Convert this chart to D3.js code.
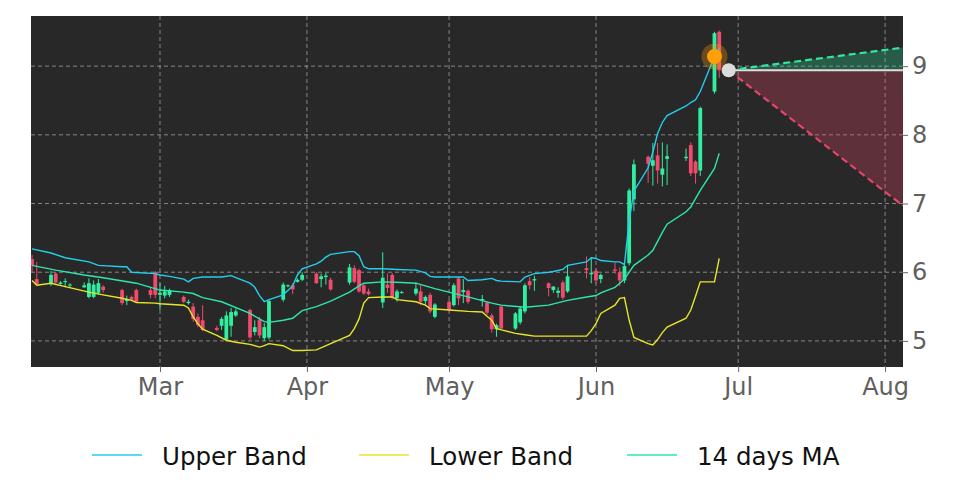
<!DOCTYPE html>
<html>
<head>
<meta charset="utf-8">
<script src="https://cdn.jsdelivr.net/npm/d3@7"></script>
<style>
  html, body { margin: 0; padding: 0; background: #ffffff; }
  svg { display: block; }
  text { font-family: "DejaVu Sans", sans-serif; }
</style>
</head>
<body>
<svg id="chart" width="972" height="486"></svg>
<script>
// ---------------- DATA ----------------
const candleDates = ["2023-02-02","2023-02-03","2023-02-06","2023-02-07","2023-02-08","2023-02-09","2023-02-10",
  "2023-02-13","2023-02-14","2023-02-15","2023-02-16","2023-02-17","2023-02-21","2023-02-22","2023-02-23","2023-02-24",
  "2023-02-27","2023-02-28","2023-03-01","2023-03-02","2023-03-03","2023-03-06","2023-03-07","2023-03-08","2023-03-09","2023-03-10",
  "2023-03-13","2023-03-14","2023-03-15","2023-03-16","2023-03-17","2023-03-20","2023-03-21","2023-03-22","2023-03-23","2023-03-24",
  "2023-03-27","2023-03-28","2023-03-29","2023-03-30","2023-03-31","2023-04-03","2023-04-04","2023-04-05","2023-04-06",
  "2023-04-10","2023-04-11","2023-04-12","2023-04-13","2023-04-14","2023-04-17","2023-04-18","2023-04-19","2023-04-20","2023-04-21",
  "2023-04-24","2023-04-25","2023-04-26","2023-04-27","2023-04-28","2023-05-01","2023-05-02","2023-05-03","2023-05-04","2023-05-05",
  "2023-05-08","2023-05-09","2023-05-10","2023-05-11","2023-05-12","2023-05-15","2023-05-16","2023-05-17","2023-05-18","2023-05-19",
  "2023-05-22","2023-05-23","2023-05-24","2023-05-25","2023-05-26","2023-05-30","2023-05-31","2023-06-01","2023-06-02",
  "2023-06-05","2023-06-06","2023-06-07","2023-06-08","2023-06-09","2023-06-12","2023-06-13","2023-06-14","2023-06-15","2023-06-16",
  "2023-06-20","2023-06-21","2023-06-22","2023-06-23","2023-06-26","2023-06-27"];
const opens  = [6.19,5.90,5.84,5.98,5.83,5.86,5.81, 5.78,5.64,5.64,5.70,5.79,5.74,5.58,5.64,5.74, 5.74,6.00,5.67,5.66,5.67,5.64,5.55,5.50,5.35,5.30,
  5.19,5.22,5.02,5.22,5.37,5.45,5.13,5.31,5.04,5.05, 5.60,5.80,5.81,5.86,5.89,5.98,5.90,5.93,5.89, 5.85,6.06,6.03,5.81,5.72,5.56,5.82,5.96,5.62,5.70,
  5.69,5.72,5.58,5.67,5.35,5.57,5.52,5.91,5.71,5.73, 5.59,5.56,5.37,5.17,5.50,5.18,5.27,5.43,5.87,5.88, 5.84,5.74,5.70,5.85,5.72,6.06,5.97,6.02,5.90,
  6.04,6.00,5.88,6.13,7.06,7.68,7.55,7.70,7.42,7.65, 7.66,7.85,7.61,7.48,8.63,9.50];
const highs  = [6.25,6.15,6.02,6.00,5.87,5.91,5.84, 5.85,5.91,5.88,5.90,5.81,5.76,5.66,5.66,5.76, 5.78,6.02,5.84,5.80,5.76,5.66,5.60,5.55,5.40,5.52,
  5.22,5.35,5.43,5.48,5.47,5.47,5.30,5.35,5.26,5.60, 5.85,5.82,5.84,5.91,6.00,6.00,5.98,5.99,5.92, 6.12,6.10,6.05,5.84,5.76,6.29,5.98,5.99,5.75,5.73,
  5.85,5.81,5.66,5.70,5.55,5.60,5.84,5.93,5.90,5.75, 5.67,5.57,5.40,5.25,5.52,5.42,5.50,5.84,5.93,5.95, 5.85,5.80,5.78,5.88,6.10,6.23,6.22,6.05,5.98,
  6.14,6.07,6.13,7.22,7.64,7.70,7.88,7.88,7.89,7.86, 7.80,7.89,7.63,8.41,9.50,9.52];
const lows   = [6.00,5.81,5.80,5.83,5.82,5.78,5.77, 5.77,5.62,5.62,5.67,5.70,5.52,5.52,5.58,5.56, 5.62,5.62,5.45,5.62,5.64,5.55,5.53,5.28,5.20,5.14,
  5.14,5.16,4.99,5.06,5.35,5.02,5.08,5.04,5.00,5.02, 5.57,5.78,5.68,5.85,5.87,5.83,5.78,5.82,5.73, 5.82,5.84,5.70,5.67,5.66,5.48,5.70,5.60,5.57,5.69,
  5.66,5.52,5.52,5.40,5.33,5.43,5.50,5.52,5.55,5.54, 5.50,5.38,5.12,5.06,5.17,5.16,5.24,5.40,5.75,5.73, 5.65,5.70,5.63,5.60,5.70,5.91,5.84,5.83,5.84,
  5.98,5.80,5.84,6.10,6.89,7.30,7.26,7.29,7.25,7.27, 7.62,7.40,7.29,7.40,8.60,8.83];
const closes = [6.10,5.82,5.96,5.85,5.85,5.87,5.82, 5.81,5.84,5.82,5.84,5.74,5.55,5.61,5.60,5.57, 5.67,5.67,5.70,5.72,5.74,5.57,5.57,5.32,5.23,5.16,
  5.16,5.32,5.37,5.42,5.43,5.05,5.20,5.08,5.20,5.58, 5.82,5.81,5.75,5.89,5.96,5.84,5.94,5.95,5.75, 6.07,5.86,5.72,5.69,5.68,5.92,5.77,5.63,5.72,5.71,
  5.76,5.57,5.64,5.43,5.53,5.45,5.81,5.62,5.74,5.57, 5.61,5.41,5.17,5.23,5.18,5.40,5.47,5.81,5.81,5.90, 5.77,5.79,5.73,5.63,5.94,6.03,5.99,5.88,5.96,
  6.02,5.88,6.09,7.19,7.57,7.58,7.63,7.48,7.51,7.69, 7.68,7.44,7.44,8.39,9.48,8.94];

const upperDates = ["2023-02-02","2023-02-06","2023-02-09","2023-02-14","2023-02-16","2023-02-21","2023-02-22","2023-02-23","2023-02-28",
  "2023-03-01","2023-03-03","2023-03-06","2023-03-07","2023-03-08","2023-03-10","2023-03-14","2023-03-16","2023-03-17","2023-03-20",
  "2023-03-21","2023-03-22","2023-03-23","2023-03-24","2023-03-27","2023-03-29","2023-03-30","2023-03-31","2023-04-03","2023-04-04",
  "2023-04-05","2023-04-06","2023-04-10","2023-04-11","2023-04-12","2023-04-13","2023-04-14","2023-04-17","2023-04-20","2023-04-24",
  "2023-04-26","2023-04-27","2023-04-28","2023-05-04","2023-05-05","2023-05-08","2023-05-10","2023-05-11","2023-05-12","2023-05-16",
  "2023-05-17","2023-05-19","2023-05-22","2023-05-23","2023-05-25","2023-05-26","2023-05-30","2023-05-31","2023-06-01","2023-06-02",
  "2023-06-05","2023-06-06","2023-06-07","2023-06-08","2023-06-09","2023-06-12","2023-06-13","2023-06-14","2023-06-15","2023-06-16",
  "2023-06-20","2023-06-21","2023-06-22","2023-06-23","2023-06-26","2023-06-27"];
const upperBand = [6.34,6.28,6.21,6.15,6.10,6.08,6.08,6.00,5.98, 5.96,5.94,5.90,5.86,5.91,5.93,5.93,5.95,5.92,5.84,
  5.78,5.66,5.57,5.60,5.67,5.80,5.96,6.05,6.12,6.16, 6.22,6.26,6.30,6.30,6.24,6.08,6.05,6.05,6.04,6.03,
  5.99,5.94,5.93,5.93,5.88,5.89,5.91,5.88,5.87,5.86, 5.93,5.98,6.00,6.01,6.04,6.10,6.15,6.21,6.20,6.17,
  6.15,6.15,6.11,6.75,7.18,7.52,7.75,8.02,8.18,8.28, 8.42,8.47,8.51,8.63,9.14,9.26];

const maDates = ["2023-02-02","2023-02-07","2023-02-13","2023-02-17","2023-02-24","2023-03-01","2023-03-06","2023-03-08","2023-03-10",
  "2023-03-14","2023-03-20","2023-03-23","2023-03-24","2023-03-27","2023-03-29","2023-03-31","2023-04-03","2023-04-06","2023-04-10",
  "2023-04-12","2023-04-13","2023-04-17","2023-04-21","2023-04-24","2023-04-28","2023-05-05","2023-05-10","2023-05-12","2023-05-17",
  "2023-05-22","2023-05-26","2023-05-30","2023-06-01","2023-06-02","2023-06-05","2023-06-06","2023-06-07","2023-06-08","2023-06-09",
  "2023-06-12","2023-06-13","2023-06-14","2023-06-15","2023-06-16","2023-06-20","2023-06-21","2023-06-22","2023-06-23","2023-06-26","2023-06-27"];
const movingAvg = [6.10,6.03,5.96,5.92,5.84,5.74,5.71,5.69,5.63, 5.57,5.40,5.28,5.27,5.30,5.33,5.44,5.50,5.58,5.71,
  5.80,5.84,5.86,5.85,5.84,5.76,5.64,5.55,5.52,5.49, 5.52,5.59,5.64,5.66,5.70,5.78,5.84,5.90,6.00,6.10,
  6.25,6.32,6.45,6.58,6.70,6.88,6.95,7.07,7.19,7.51,7.73];

const lowerDates = ["2023-02-02","2023-02-03","2023-02-06","2023-02-09","2023-02-14","2023-02-17","2023-02-21","2023-02-23","2023-02-24",
  "2023-02-28","2023-03-01","2023-03-06","2023-03-07","2023-03-08","2023-03-09","2023-03-10","2023-03-13","2023-03-15","2023-03-17",
  "2023-03-20","2023-03-22","2023-03-23","2023-03-24","2023-03-27","2023-03-29","2023-03-31","2023-04-03","2023-04-06","2023-04-10",
  "2023-04-11","2023-04-12","2023-04-13","2023-04-14","2023-04-17","2023-04-19","2023-04-20","2023-04-24","2023-04-26","2023-04-27",
  "2023-05-01","2023-05-05","2023-05-08","2023-05-09","2023-05-10","2023-05-11","2023-05-12","2023-05-15","2023-05-17","2023-05-19",
  "2023-05-30","2023-05-31","2023-06-01","2023-06-02","2023-06-05","2023-06-06","2023-06-07","2023-06-08","2023-06-09","2023-06-12",
  "2023-06-13","2023-06-14","2023-06-15","2023-06-16","2023-06-20","2023-06-21","2023-06-22","2023-06-23","2023-06-26","2023-06-27"];
const lowerBand = [5.88,5.81,5.84,5.79,5.71,5.67,5.62,5.59,5.56, 5.55,5.54,5.52,5.48,5.35,5.25,5.17,5.08,5.01,4.98,
  4.95,4.91,4.93,4.96,4.93,4.86,4.86,4.87,4.96,5.08, 5.18,5.32,5.55,5.63,5.64,5.64,5.60,5.57,5.52,5.47,
  5.45,5.43,5.42,5.36,5.30,5.18,5.16,5.11,5.09,5.07, 5.07,5.15,5.25,5.40,5.52,5.62,5.63,5.30,5.05,4.96,
  4.94,5.02,5.12,5.20,5.33,5.45,5.65,5.86,5.86,6.20];

// forecast cone
const forecastDates = ["2023-06-29","2023-08-04T18:00"];
const forecastMid   = [8.94, 8.94];
const forecastUpper = [8.94, 9.27];
const forecastLower = [8.94, 6.97];

// highlighted point
const signalDate = "2023-06-26";
const signalValue = 9.14;

const yTicks = [5, 6, 7, 8, 9];
const legendLabels = ["Upper Band", "Lower Band", "14 days MA"];

// ---------------- CHART ----------------
const W = 972, H = 486;
const margin = { left: 31, right: 69, top: 16, bottom: 119 };
const pw = W - margin.left - margin.right, ph = H - margin.top - margin.bottom;

const parse = s => s.length > 10 ? d3.isoParse(s) : d3.timeParse("%Y-%m-%d")(s);
const x = d3.scaleTime()
  .domain([new Date(2023, 1, 1, 18, 43), new Date(2023, 7, 4, 18, 43)])
  .range([margin.left, margin.left + pw]);
const y = d3.scaleLinear().domain([4.62, 9.73]).range([margin.top + ph, margin.top]);

const svg = d3.select("#chart");
svg.append("rect").attr("width", W).attr("height", H).attr("fill", "#ffffff");

svg.append("defs").append("clipPath").attr("id", "clip")
  .append("rect").attr("x", margin.left).attr("y", margin.top).attr("width", pw).attr("height", ph);

svg.append("rect").attr("x", margin.left).attr("y", margin.top)
  .attr("width", pw).attr("height", ph).attr("fill", "#282828");

const plot = svg.append("g").attr("clip-path", "url(#clip)");

// grid
const xTicks = x.ticks(d3.timeMonth.every(1)).filter(d => d > x.domain()[0]);
plot.append("g").selectAll("line").data(xTicks).join("line")
  .attr("x1", d => x(d)).attr("x2", d => x(d))
  .attr("y1", margin.top).attr("y2", margin.top + ph)
  .attr("stroke", "#b4b4b4").attr("stroke-width", 0.8).attr("stroke-dasharray", "4,3").attr("opacity", 0.85);
plot.append("g").selectAll("line").data(yTicks).join("line")
  .attr("x1", margin.left).attr("x2", margin.left + pw)
  .attr("y1", d => y(d)).attr("y2", d => y(d))
  .attr("stroke", "#b4b4b4").attr("stroke-width", 0.8).attr("stroke-dasharray", "4,3").attr("opacity", 0.85);

// forecast cone
const fc = forecastDates.map((d, i) => ({ d: parse(d), m: forecastMid[i], u: forecastUpper[i], l: forecastLower[i] }));
plot.append("path").datum(fc)
  .attr("d", d3.area().x(p => x(p.d)).y0(p => y(p.m)).y1(p => y(p.u)))
  .attr("fill", "rgba(46,232,160,0.27)");
plot.append("path").datum(fc)
  .attr("d", d3.area().x(p => x(p.d)).y0(p => y(p.m)).y1(p => y(p.l)))
  .attr("fill", "rgba(236,70,106,0.27)");
plot.append("path").datum(fc)
  .attr("d", d3.line().x(p => x(p.d)).y(p => y(p.m)))
  .attr("fill", "none").attr("stroke", "#dedede").attr("stroke-width", 2.2);
plot.append("path").datum(fc)
  .attr("d", d3.line().x(p => x(p.d)).y(p => y(p.u)))
  .attr("fill", "none").attr("stroke", "#2ee8a0").attr("stroke-width", 2.2).attr("stroke-dasharray", "7,4");
plot.append("path").datum(fc)
  .attr("d", d3.line().x(p => x(p.d)).y(p => y(p.l)))
  .attr("fill", "none").attr("stroke", "#e8456e").attr("stroke-width", 2.2).attr("stroke-dasharray", "7,4");

// candles
const candles = candleDates.map((d, i) => ({ d: parse(d), o: opens[i], h: highs[i], l: lows[i], c: closes[i] }));
const dayW = x(new Date(2023, 2, 2)) - x(new Date(2023, 2, 1));
const bw = dayW * 0.8;
const green = "#2ef0a0", red = "#f04a6c";
const cg = plot.append("g");
cg.selectAll("line").data(candles).join("line")
  .attr("x1", p => x(p.d)).attr("x2", p => x(p.d))
  .attr("y1", p => y(p.h)).attr("y2", p => y(p.l))
  .attr("stroke", p => p.c >= p.o ? green : red).attr("stroke-width", 1);
cg.selectAll("rect").data(candles).join("rect")
  .attr("x", p => x(p.d) - bw / 2).attr("width", bw)
  .attr("y", p => y(Math.max(p.o, p.c)))
  .attr("height", p => Math.max(1, Math.abs(y(p.o) - y(p.c))))
  .attr("fill", p => p.c >= p.o ? green : red);

// bands
function drawLine(dates, vals, color) {
  const pts = dates.map((d, i) => ({ d: parse(d), v: vals[i] }));
  plot.append("path").datum(pts)
    .attr("d", d3.line().x(p => x(p.d)).y(p => y(p.v)))
    .attr("fill", "none").attr("stroke", color).attr("stroke-width", 1.4);
}
const cUpper = "#22cfee", cLower = "#e6e62a", cMA = "#2ee6b0";
drawLine(upperDates, upperBand, cUpper);
drawLine(lowerDates, lowerBand, cLower);
drawLine(maDates, movingAvg, cMA);

// signal dot + last price dot
plot.append("circle").attr("cx", x(parse(signalDate))).attr("cy", y(signalValue)).attr("r", 13)
  .attr("fill", "#ff9f0a").attr("opacity", 0.3);
plot.append("circle").attr("cx", x(parse(signalDate))).attr("cy", y(signalValue)).attr("r", 7.5)
  .attr("fill", "#ff9f0a");
plot.append("circle").attr("cx", x(fc[0].d)).attr("cy", y(fc[0].m)).attr("r", 7)
  .attr("fill", "#dcdcdc");

// axes
const xAxis = svg.append("g").attr("transform", `translate(0,${margin.top + ph})`)
  .call(d3.axisBottom(x).tickValues(xTicks).tickFormat(d3.timeFormat("%b")).tickSize(5).tickPadding(6));
xAxis.select(".domain").remove();
xAxis.selectAll("line").attr("stroke", "#666");
xAxis.selectAll("text").attr("font-size", 24).attr("fill", "#606060")
  .attr("font-family", "DejaVu Sans").attr("dy", "0.71em");

const yAxis = svg.append("g").attr("transform", `translate(${margin.left + pw},0)`)
  .call(d3.axisRight(y).tickValues(yTicks).tickFormat(d3.format("d")).tickSize(5).tickPadding(4));
yAxis.select(".domain").remove();
yAxis.selectAll("line").attr("stroke", "#666");
yAxis.selectAll("text").attr("font-size", 24).attr("fill", "#606060").attr("font-family", "DejaVu Sans");

// legend
const legendColors = [cUpper, cLower, cMA];
const legendX = [92, 359, 627];
const lg = svg.append("g");
legendLabels.forEach((lab, i) => {
  lg.append("line").attr("x1", legendX[i]).attr("x2", legendX[i] + 50)
    .attr("y1", 455).attr("y2", 455).attr("stroke", legendColors[i]).attr("stroke-width", 1.6);
  lg.append("text").attr("x", legendX[i] + 70).attr("y", 465)
    .attr("font-size", 24.5).attr("fill", "#111").text(lab);
});
</script>
</body>
</html>
